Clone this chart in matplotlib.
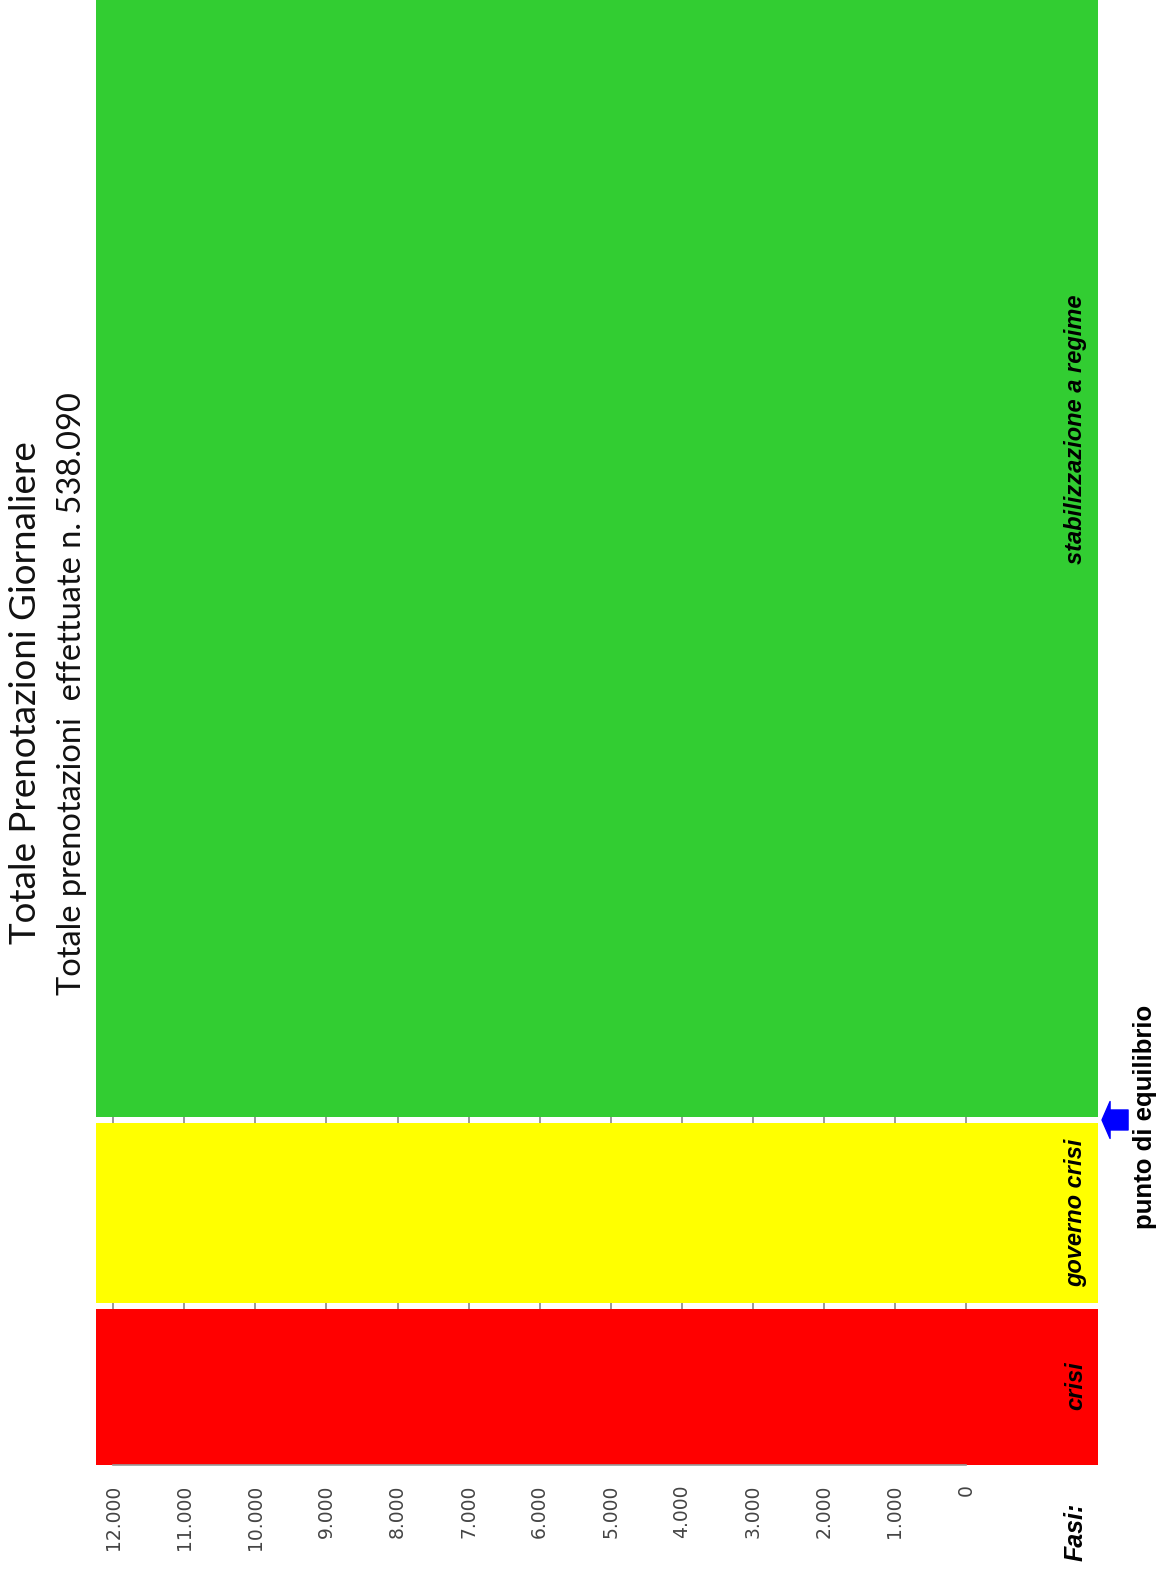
import numpy as np
import matplotlib
matplotlib.use("Agg")
import matplotlib.pyplot as plt

# fasi dell'andamento prenotazioni (asse giorni) e relativi colori
fasi = ["crisi", "governo crisi", "stabilizzazione a regime"]
inizio_fase = [0, 15, 32.5]
fine_fase = [15, 32.5, 138]
colori_fase = ["#ff0000", "#ffff00", "limegreen"]
pos_etichetta = [7.5, 23.75, 97.6]

# asse delle prenotazioni giornaliere
valori_tick = np.arange(0, 13000, 1000)
etichette_tick = ["0", "1.000", "2.000", "3.000", "4.000", "5.000", "6.000",
                  "7.000", "8.000", "9.000", "10.000", "11.000", "12.000"]

punto_equilibrio = 32.5
titolo = "Totale Prenotazioni Giornaliere"
sottotitolo = "Totale prenotazioni  effettuate n. 538.090"

fig = plt.figure(figsize=(11.67, 15.73), dpi=100)
ax = fig.add_axes([96 / 1167, 108 / 1573, 1002 / 1167, 1465 / 1573])

# piccolo stacco bianco tra una fase e l'altra
stacco = 0.27
n = len(fasi)
for i, (a, b, c) in enumerate(zip(inizio_fase, fine_fase, colori_fase)):
    a0 = a + stacco if i > 0 else a
    b0 = b - stacco if i < n - 1 else b
    ax.axhspan(a0, b0, facecolor=c, edgecolor="none", zorder=1)

ax.set_xlim(12243, -1857)
ax.set_ylim(0, 138)

ax.set_xticks(valori_tick)
ax.set_xticklabels(etichette_tick, rotation=90, va="top", ha="center",
                   fontsize=13.5, color="#444444", family="DejaVu Sans")
ax.tick_params(axis="x", length=0, pad=14)
ax.set_yticks([])
ax.set_axisbelow(True)
ax.grid(axis="x", color="#888888", lw=1.2)

for s in ["top", "left", "right"]:
    ax.spines[s].set_visible(False)
ax.spines["bottom"].set_bounds(0, 12000)
ax.spines["bottom"].set_color("#999999")
ax.spines["bottom"].set_linewidth(1.2)

tr = ax.get_yaxis_transform()
for nome, y in zip(fasi, pos_etichetta):
    ax.text(0.978, y, nome, transform=tr, rotation=90, ha="center", va="center",
            fontsize=17, fontweight="bold", fontstyle="italic",
            family="Liberation Sans")
ax.text(0.978, -6.3, "Fasi:", transform=tr, rotation=90, ha="center",
        va="center", fontsize=18, fontweight="bold", fontstyle="italic",
        family="Liberation Sans", clip_on=False)

# freccia sul punto di equilibrio
ax.annotate("", xy=(1.004, punto_equilibrio), xycoords=tr,
            xytext=(1.030, punto_equilibrio), textcoords=tr,
            arrowprops=dict(arrowstyle="simple,head_length=0.29,head_width=1.33,tail_width=0.72",
                            mutation_scale=20, color="#0000ff", shrinkA=0, shrinkB=0),
            annotation_clip=False)
ax.text(1.047, punto_equilibrio + 0.3, "punto di equilibrio", transform=tr,
        rotation=90, ha="center", va="center", fontsize=18.5, fontweight="bold",
        family="Liberation Sans", clip_on=False)

fig.text(26 / 1167, 0.5595, titolo, rotation=90, ha="center", va="center",
         fontsize=26.5, family="Lato", color="#111111")
fig.text(72 / 1167, 0.5590, sottotitolo, rotation=90, ha="center", va="center",
         fontsize=23.5, family="Lato", color="#111111")

fig.savefig("out.png", dpi=100)
